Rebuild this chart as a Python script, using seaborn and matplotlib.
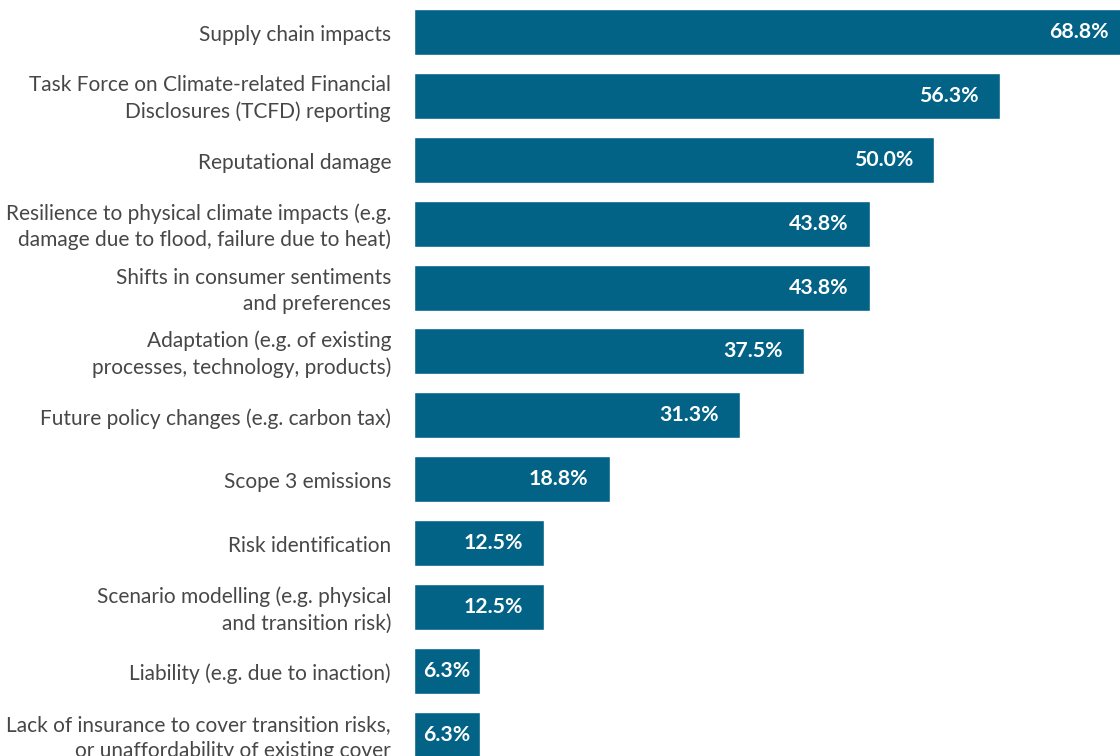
import matplotlib
matplotlib.use("Agg")
import matplotlib.pyplot as plt
import matplotlib.transforms as mtransforms
import seaborn as sns
import pandas as pd

categories = [
    "Supply chain impacts",
    "Task Force on Climate-related Financial\nDisclosures (TCFD) reporting",
    "Reputational damage",
    "Resilience to physical climate impacts (e.g.\ndamage due to flood, failure due to heat)",
    "Shifts in consumer sentiments\nand preferences",
    "Adaptation (e.g. of existing\nprocesses, technology, products)",
    "Future policy changes (e.g. carbon tax)",
    "Scope 3 emissions",
    "Risk identification",
    "Scenario modelling (e.g. physical\nand transition risk)",
    "Liability (e.g. due to inaction)",
    "Lack of insurance to cover transition risks,\nor unaffordability of existing cover",
]
values = [68.8, 56.3, 50.0, 43.8, 43.8, 37.5, 31.3, 18.8, 12.5, 12.5, 6.3, 6.3]

BAR_COLOR = "#026387"
TEXT_COLOR = "#474747"

df = pd.DataFrame({"category": categories, "value": values})

sns.set_theme(style="white")
plt.rcParams["font.family"] = ["Lato", "DejaVu Sans"]

W, H = 1120, 756
fig = plt.figure(figsize=(W / 100, H / 100), dpi=100)
ax = fig.add_axes([414 / W, 0, 1 - 414 / W, 1])

sns.barplot(data=df, y="category", x="value", orient="h", color=BAR_COLOR,
            saturation=1, width=0.72, ax=ax)

px_per_unit = 10.4
ax.set_xlim(0, (W - 414) / px_per_unit)
ax.set_ylim(11.33, -0.50)

for spine in ax.spines.values():
    spine.set_visible(False)
ax.set_xticks([])
ax.set_xlabel("")
ax.set_ylabel("")
ax.tick_params(axis="y", length=0, labelleft=False)

# category labels, right-aligned just left of the bars
label_tf = mtransforms.offset_copy(ax.get_yaxis_transform(), fig=fig,
                                   x=-16.5, y=-2.2, units="points")
for i, name in enumerate(categories):
    ax.text(0, i, name, transform=label_tf, ha="right", va="center",
            multialignment="right", linespacing=1.38, fontsize=15.0,
            color=TEXT_COLOR, clip_on=False)

# value labels inside the bars
pad = 21 / px_per_unit
for i, v in enumerate(values):
    if v * px_per_unit > 90:
        ax.text(v - pad, i, f"{v:.1f}%", ha="right", va="center",
                color="white", fontsize=15.3, fontweight="bold")
    else:
        ax.text(v / 2, i, f"{v:.1f}%", ha="center", va="center",
                color="white", fontsize=15.3, fontweight="bold")

fig.savefig("out.png", dpi=100)
